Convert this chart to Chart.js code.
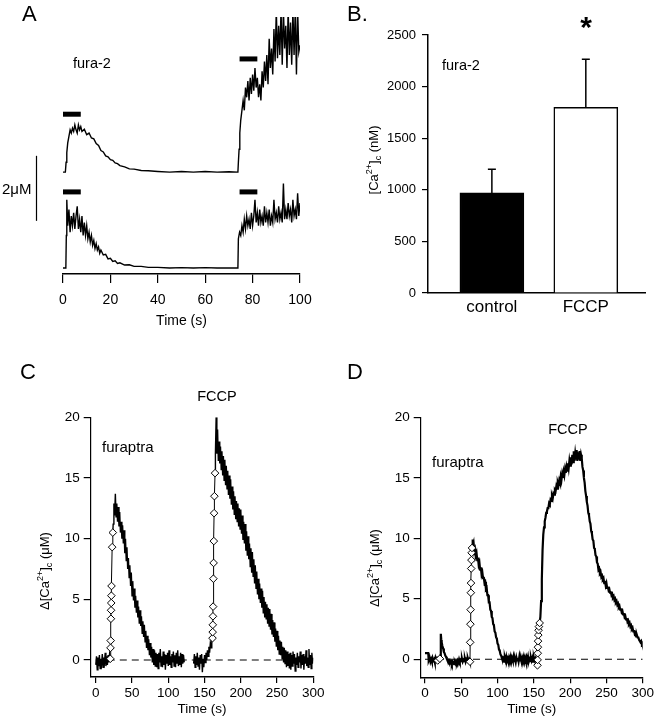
<!DOCTYPE html>
<html>
<head>
<meta charset="utf-8">
<script src="https://cdn.jsdelivr.net/npm/chart.js@4.4.1/dist/chart.umd.min.js"></script>
<style>
  body { margin: 0; background: #fff; }
  #fig { position: relative; width: 656px; height: 720px; }
  canvas { position: absolute; }
</style>
</head>
<body>
<div id="fig">
  <canvas id="chartA" width="330" height="330" style="left:0;top:0"></canvas>
  <canvas id="chartB" width="326" height="330" style="left:330px;top:0"></canvas>
  <canvas id="chartC" width="330" height="390" style="left:0;top:330px"></canvas>
  <canvas id="chartD" width="326" height="390" style="left:330px;top:330px"></canvas>
</div>
<script>
// ---- panel A: fura-2 traces, values in uM above each trace's own baseline ----
const aTimeTicks = [0, 20, 40, 60, 80, 100]
const aTraceOffset = 2.95 // upper trace is stacked above the lower one
const aStimulus = [[0, 7.5], [74.5, 82]]
const aStimHeightTop = [1.78, 3.48]
const aStimHeightBottom = [2.34, 2.34]
const aTopTrace = [[0,0],[1,0],[1.3,0.3],[1.6,0.6],[2,0.9],[2.5,1.1],[3,1.3],[3.5,1.2],[4,1.35],[4.5,1.25],[5,1.45],[5.5,1.3],[6,1.2],[6.5,1.45],[7,1.3],[7.5,1.4],[8,1.25],[9,1.32],[10,1.15],[11,1.2],[12,1.05],[13,1.02],[14,0.88],[15,0.82],[16,0.66],[17,0.62],[18,0.5],[19,0.47],[20,0.38],[21,0.36],[22,0.28],[23,0.26],[24,0.2],[26,0.16],[28,0.1],[30,0.09],[33,0.05],[36,0.04],[40,0.02],[45,0.0],[50,0.02],[55,0.0],[60,0.02],[65,0.0],[70,0.01],[73.8,0],
  [74,0.3],[74.3,0.7],[74.6,1.2],[75,1.6],[75.5,1.9],[76,2.2],[76.5,1.9],[77,2.6],[77.5,2.3],[78,2.8],[78.5,2.2],[79,2.9],[79.5,2.4],[80,3.0],[80.5,2.5],[81,3.2],[81.5,2.6],[82,2.9],[82.5,2.3],[83,2.7],[83.5,2.2],[84,3.1],[84.5,2.6],[85,3.4],[85.5,2.8],[86,3.6],[86.5,2.7],[87,4.1],[87.5,3.2],[88,3.8],[88.5,3.0],[89,4.4],[89.5,3.4],[90,5.0],[90.5,3.5],[91,4.5],[91.5,3.6],[92,5.0],[92.5,3.3],[93,5.0],[93.5,3.8],[94,4.5],[94.5,3.2],[95,5.0],[95.5,3.6],[96,4.6],[96.5,3.3],[97,5.0],[97.5,3.6],[98,5.0],[98.5,3.0],[99,5.0],[99.5,3.7],[100,3.9]]
const aBottomTrace = [[0,0],[1.2,0],[1.4,1.0],[1.6,2.1],[2,1.3],[2.5,1.8],[3,1.1],[3.5,1.6],[4,1.3],[4.5,1.7],[5,1.2],[5.5,1.6],[6,1.9],[6.5,1.2],[7,1.5],[7.5,1.1],[8,1.6],[8.5,1.0],[9,1.4],[9.5,1.0],[10,1.3],[10.5,0.9],[11,1.1],[11.5,0.8],[12,1.0],[12.5,0.7],[13,0.85],[13.5,0.6],[14,0.75],[14.5,0.55],[15,0.65],[15.5,0.45],[16,0.55],[17,0.4],[18,0.42],[19,0.28],[20,0.3],[21,0.2],[22,0.22],[23,0.14],[24,0.16],[26,0.09],[28,0.1],[30,0.05],[33,0.05],[36,0.02],[40,0.02],[45,0.0],[50,0.01],[55,0.0],[60,0.01],[65,0],[73.8,0],
  [74,0.9],[74.5,1.1],[75,1.0],[75.5,1.3],[76,1.1],[76.5,1.5],[77,1.2],[77.5,1.6],[78,1.3],[78.5,1.5],[79,1.2],[79.5,1.7],[80,1.3],[80.5,1.6],[81,2.1],[81.5,1.4],[82,1.7],[82.5,1.3],[83,1.8],[83.5,1.4],[84,1.6],[84.5,1.3],[85,1.9],[85.5,1.4],[86,1.7],[86.5,1.4],[87,1.8],[87.5,1.3],[88,1.6],[88.5,1.4],[89,2.1],[89.5,1.5],[90,1.7],[90.5,1.4],[91,1.9],[91.5,1.5],[92,1.7],[92.5,1.4],[93,2.6],[93.5,1.5],[94,1.8],[94.5,1.5],[95,2.0],[95.5,1.6],[96,1.8],[96.5,1.4],[97,2.1],[97.5,1.6],[98,1.8],[98.5,1.5],[99,2.3],[99.5,1.6],[100,2.0]]

// ---- panel B: mean [Ca2+]c (nM) ----
const bGroups = ['control', 'FCCP']
const bMean = [970, 1800]
const bSem = [230, 465]
const bCaTicks = [0, 500, 1000, 1500, 2000, 2500]

// ---- panels C and D: furaptra, delta [Ca2+]c (uM) ----
const cdTimeTicks = [0, 50, 100, 150, 200, 250, 300]
const cdCaTicks = [0, 5, 10, 15, 20]

const cTrace1 = [[0,-0.4],[1,0.3],[2,-0.8],[3,0.2],[4,-0.5],[5,0.4],[6,-0.7],[7,0.1],[8,-0.3],[9,0.5],[10,-0.6],[11,0.2],[12,-0.2],[13,0.6],[14,-0.5],[15,0.3],[16,-0.4],[17,0.4],[18,-0.2],[19,0.5],[20,0.1]]
const cDiamonds1 = [[20,0.1],[20.3,1.0],[20.6,1.6],[20.9,3.4],[21.1,4.1],[21.3,4.7],[21.5,5.3],[21.7,6.1],[22.6,9.3],[23.5,10.5]]
const cTrace2 = [[23.5,10.5],[24,11.2],[25,12.9],[26,11.9],[27,13.7],[28,11.8],[29,12.9],[30,11.4],[31,12.6],[32,11.0],[33,12.2],[34,10.5],[35,11.4],[36,10.0],[37,11.1],[38,9.6],[39,10.7],[40,8.8],[41,10.0],[42,8.2],[43,9.3],[44,7.5],[45,8.4],[46,6.8],[47,7.8],[48,6.1],[49,7.2],[50,5.3],[51,6.5],[52,4.9],[53,5.9],[54,4.3],[55,5.3],[56,3.9],[57,4.9],[58,3.5],[59,4.4],[60,3.0],[61,4.1],[62,2.8],[63,3.6],[64,2.2],[65,3.2],[66,1.9],[67,2.9],[68,1.5],[69,2.4],[70,1.0],[71,2.0],[72,0.8],[73,1.7],[74,0.4],[75,1.4],[76,0.2],[77,1.1],[78,-0.2],[79,0.9],[80,-0.4],[81,0.8],[82,-0.5],[83,0.6],[84,-0.6],
  [85,0.5],[86,-0.7],[87,0.6],[88,-0.2],[89,0.9],[90,-0.5],[91,0.3],[92,-0.6],[93,0.7],[94,-0.4],[95,0.5],[96,-0.8],[97,0.4],[98,-0.3],[99,0.6],[100,-0.5],[101,0.8],[102,-0.4],[103,0.3],[104,-0.6],[105,0.5],[106,-0.2],[107,0.7],[108,-0.5],[109,0.4],[110,-0.6],[111,0.6],[112,-0.3],[113,0.8],[114,-0.5],[115,0.3],[116,-0.4],[117,0.6],[118,-0.6],[119,0.5],[120,-0.3],[121,0.4],[122,-0.2]]
const cTrace3 = [[135,-0.3],[136,0.5],[137,-0.6],[138,0.3],[139,-0.4],[140,0.6],[141,-0.5],[142,0.2],[143,-0.8],[144,0.4],[145,-0.3],[146,0.5],[147,-1.0],[148,0.1],[149,-0.6],[150,0.4],[151,-0.2],[152,0.6],[153,0.0],[154,0.8],[155,0.3],[156,1.1],[157,0.6],[158,1.4],[159,1.0],[160,1.6],[161,1.8]]
const cDiamonds2 = [[161,1.8],[161.2,2.3],[161.4,2.9],[161.6,3.6],[161.8,4.4],[162.2,6.7],[162.5,8.0],[162.8,9.8],[163.2,12.1],[163.6,13.5],[164.5,15.4]]
const cTrace4 = [[164.5,15.4],[165,17.0],[166,20.0],[167,17.0],[168,19.0],[169,16.4],[170,18.0],[171,16.2],[172,17.6],[173,15.7],[174,17.2],[175,15.2],[176,16.8],[177,14.8],[178,16.5],[179,14.4],[180,16.0],[181,14.1],[182,15.6],[183,13.6],[184,15.2],[185,13.3],[186,14.9],[187,12.8],[188,14.3],[189,12.4],[190,13.9],[191,12.0],[192,13.5],[193,11.6],[194,13.1],[195,11.4],[196,12.9],[197,11.0],[198,12.5],[199,10.8],[200,12.4],[201,10.4],[202,11.9],[203,9.9],[204,11.4],[205,9.6],[206,11.2],[207,9.0],[208,10.6],[209,8.6],[210,10.2],[211,8.3],[212,9.6],[213,7.7],[214,9.2],[215,7.2],[216,8.9],[217,6.9],[218,8.3],[219,6.3],[220,7.8],[221,5.9],[222,7.3],[223,5.4],[224,6.7],[225,5.0],[226,6.3],[227,4.7],[228,5.9],[229,4.3],[230,5.7],[231,3.9],[232,5.2],[233,3.5],[234,4.8],[235,3.4],[236,4.6],[237,3.0],[238,4.3],[239,2.8],[240,4.2],[241,2.5],[242,3.8],[243,2.1],[244,3.3],[245,1.9],[246,3.1],[247,1.5],[248,2.6],[249,1.1],[250,2.4],[251,0.8],[252,2.0],[253,0.5],[254,1.6],[255,0.4],[256,1.5],[257,0.1],[258,1.1],[259,-0.2],[260,1.0],[261,-0.3],[262,0.8],[263,-0.6],[264,0.7],[265,-0.5],[266,0.5],[267,-0.7],[268,0.6],
  [269,-0.8],[270,0.4],[271,-0.5],[272,0.7],[273,-0.3],[274,0.5],[275,-0.9],[276,0.2],[277,-0.4],[278,0.6],[279,-0.6],[280,0.3],[281,-0.2],[282,0.7],[283,-0.7],[284,0.4],[285,-0.4],[286,0.5],[287,-0.8],[288,0.3],[289,-0.3],[290,0.8],[291,-0.5],[292,0.2],[293,-0.6],[294,0.9],[295,-0.4],[296,0.4],[297,-0.7],[298,0.6],[299,-0.3],[300,0.2]]

const dTrace1 = [[0,0.5],[2,0.5],[4.5,0.5],[4.8,0.0],[5.5,-0.1],[6.5,0.1],[7.5,-0.2],[8.5,0.0],[9.5,-0.2],[10.5,0.1],[11.5,-0.1],[12.5,0.0],[13.5,-0.25],[14.5,0.1],[15.5,-0.1],[16.5,0.0],[17.5,-0.1]]
const dDiamonds1 = [[17.5,-0.1],[20.5,0.05]]
const dTrace2 = [[20.5,0.05],[21,0.3],[21.8,2.1],[22.5,1.6],[23,1.4],[24,1.1],[25,0.9],[26,0.6],[27,0.5],[28,0.3],[29,0.2],[30,0.05],[31,-0.1],[32,-0.05],[33,-0.2],[34,-0.1],[35,-0.3],[36,-0.2],[37,-0.4],[38,-0.2],[39,-0.3],[40,-0.4],[41,-0.2],[42,-0.35],[43,-0.15],[44,-0.3],[45,-0.1],[46,-0.25],[47,0.0],[48,-0.2],[49,-0.05],[50,-0.15],[51,0.05],[52,-0.2],[53,-0.05],[54,-0.15],[55,0.05],[56,-0.2],[57,0.0],[58,-0.1],[59,0.1],[60,-0.1],[61,0.0],[62,-0.2]]
const dDiamonds2 = [[62,-0.2],[62.3,1.4],[62.6,2.9],[62.9,4.1],[63.2,5.5],[63.4,6.3],[63.7,7.5],[64,8.2],[64.3,8.8],[64.8,9.2]]
const dTrace3 = [[64.8,9.2],[65.5,9.9],[66,9.3],[67,9.6],[68,8.9],[69,9.1],[70,8.6],[71,8.8],[72,8.2],[73,8.4],[74,7.8],[75,8.0],[76,7.4],[77,7.6],[78,7.0],[79,7.2],[80,6.7],[81,6.8],[82,6.3],[83,6.4],[84,5.8],[85,5.9],[86,5.3],[87,5.3],[88,4.7],[89,4.7],[90,4.1],[91,4.0],[92,3.5],[93,3.4],[94,2.9],[95,2.8],[96,2.3],[97,2.2],[98,1.8],[99,1.7],[100,1.3],[101,1.2],[102,0.8],[103,0.7],[104,0.4],[105,0.3],[106,0.1],[107,0.0],[108,0.1],
  [109,-0.2],[110,0.15],[111,-0.1],[112,0.2],[113,-0.15],[114,0.05],[115,-0.2],[116,0.15],[117,-0.05],[118,0.2],[119,-0.2],[120,0.1],[121,-0.1],[122,0.2],[123,-0.15],[124,0.0],[125,-0.25],[126,0.15],[127,-0.1],[128,0.1],[129,-0.2],[130,0.2],[131,-0.1],[132,0.05],[133,-0.2],[134,0.15],[135,-0.05],[136,0.2],[137,-0.2],[138,0.1],[139,-0.15],[140,0.15],[141,-0.1],[142,0.2],[143,-0.2],[144,0.0],[145,-0.15],[146,0.15],[147,-0.1],[148,0.1],[149,-0.2],[150,0.15],[151,-0.1],[152,0.05],[153,-0.2],[154,0.0],[155,-0.5]]
const dDiamonds3 = [[155,-0.5],[155.2,-0.05],[155.4,0.5],[155.6,1.0],[155.8,1.5],[156.1,2.0],[156.5,2.4],[157,2.7],[158,3.0]]
const dTrace4 = [[158,3.0],[159,3.5],[160,4.8],[161,6.6],[162,9.0],[163,10.3],[164,10.9],[165,11.4],[166,11.7],[167,12.1],[168,12.2],[169,12.5],[170,12.5],[171,12.9],[172,12.8],[173,13.2],[174,13.1],[175,13.5],[176,13.3],[177,13.7],[178,13.6],[179,14.0],[180,13.9],[181,14.3],[182,14.1],[183,14.6],[184,14.4],[185,14.8],[186,14.6],[187,15.1],[188,14.8],[189,15.3],[190,15.0],[191,15.5],[192,15.2],[193,15.7],[194,15.4],[195,15.9],[196,15.6],[197,16.2],[198,15.8],[199,16.4],[200,16.0],[201,16.7],[202,16.1],[203,16.9],[204,16.3],[205,17.2],[206,16.4],[207,17.0],[208,16.5],[209,17.3],[210,16.4],[211,17.1],[212,16.5],[213,17.2],[214,16.4],[215,16.9],
  [216,16.6],[217,15.9],[218,15.6],[219,15.0],[220,14.6],[221,13.9],[222,13.5],[223,13.0],[224,12.7],[225,12.1],[226,11.9],[227,11.4],[228,11.2],[229,10.6],[230,10.4],[231,9.9],[232,9.8],[233,9.2],[234,9.1],[235,8.6],[236,8.5],[237,8.0],[238,7.9],[239,7.4],[240,7.5],[241,7.1],[242,7.2],[243,6.8],[244,6.9],[245,6.6],[246,6.7],[247,6.3],[248,6.5],[249,6.1],[250,6.3],[251,5.9],[252,6.0],[253,5.7],[254,5.8],[255,5.5],[256,5.6],[257,5.3],[258,5.4],[259,5.1],[260,5.2],[261,4.9],[262,5.0],[263,4.7],[264,4.8],[265,4.5],[266,4.6],[267,4.3],[268,4.4],[269,4.1],[270,4.2],[271,3.9],[272,4.0],[273,3.7],[274,3.8],[275,3.5],[276,3.6],[277,3.3],[278,3.4],[279,3.1],[280,3.2],[281,2.9],[282,3.0],[283,2.7],[284,2.8],[285,2.5],[286,2.6],[287,2.3],[288,2.4],[289,2.1],[290,2.2],[291,1.9],[292,2.0],[293,1.8],[294,1.8],[295,1.6],[296,1.6],[297,1.4],[298,1.5],[299,1.3],[300,1.4]]

const FONT = '"Liberation Sans", Arial, Helvetica, sans-serif'
Chart.defaults.font.family = FONT
Chart.defaults.color = '#000'

const toXY = (pairs, shift = 0) => pairs.map(([x, y]) => ({ x, y: y + shift }))

function drawVerticalTitle (ctx, t) {
  const small = Math.round(t.size * 0.72)
  const fontOf = p => `${p.sup || p.sub ? small : t.size}px ${FONT}`
  ctx.save()
  ctx.translate(t.x, t.y)
  ctx.rotate(-Math.PI / 2)
  ctx.textAlign = 'left'
  ctx.textBaseline = 'alphabetic'
  let w = 0
  t.parts.forEach(p => { ctx.font = fontOf(p); w += ctx.measureText(p.text).width })
  let cx = -w / 2
  t.parts.forEach(p => {
    ctx.font = fontOf(p)
    const dy = p.sup ? -t.size * 0.4 : p.sub ? t.size * 0.25 : 0
    ctx.fillText(p.text, cx, t.size * 0.36 + dy)
    cx += ctx.measureText(p.text).width
  })
  ctx.restore()
}

// free text, rotated axis titles with super/subscripts, scale bar
const figureText = {
  id: 'figureText',
  afterDraw (chart, args, opts) {
    const ctx = chart.ctx
    ctx.save()
    ctx.fillStyle = '#000'
    ;(opts.items || []).forEach(it => {
      ctx.font = `${it.weight || 'normal'} ${it.size}px ${FONT}`
      ctx.textAlign = it.align || 'left'
      ctx.textBaseline = it.baseline || 'middle'
      ctx.fillText(it.text, it.x, it.y)
    })
    if (opts.yTitle) drawVerticalTitle(ctx, opts.yTitle)
    if (opts.scaleBar) {
      const sb = opts.scaleBar
      const y = chart.scales.y
      const y0 = y.getPixelForValue(sb.from)
      const y1 = y.getPixelForValue(sb.from + sb.value)
      ctx.strokeStyle = '#000'
      ctx.lineWidth = 1.2
      ctx.beginPath()
      ctx.moveTo(sb.x, y0)
      ctx.lineTo(sb.x, y1)
      ctx.stroke()
      ctx.font = `15px ${FONT}`
      ctx.textAlign = 'right'
      ctx.textBaseline = 'middle'
      ctx.fillText(sb.label, sb.x - 5, (y0 + y1) / 2 + 2)
    }
    ctx.restore()
  }
}

const errorBars = {
  id: 'errorBars',
  afterDatasetsDraw (chart, args, opts) {
    const { ctx, scales: { x, y } } = chart
    ctx.save()
    ctx.strokeStyle = '#000'
    ctx.lineWidth = 1.5
    opts.mean.forEach((m, i) => {
      const px = x.getPixelForValue(i + 1)
      const y0 = y.getPixelForValue(m)
      const y1 = y.getPixelForValue(m + opts.sem[i])
      ctx.beginPath()
      ctx.moveTo(px, y0)
      ctx.lineTo(px, y1)
      ctx.moveTo(px - 4, y1)
      ctx.lineTo(px + 4, y1)
      ctx.stroke()
    })
    ctx.restore()
  }
}

function timeAxis (min, max, ticks, size, tickLen, pad, boxH, titlePad) {
  return {
    type: 'linear',
    min,
    max,
    afterBuildTicks: axis => { axis.ticks = ticks.map(v => ({ value: v })) },
    afterFit: axis => { axis.height = boxH },
    border: { color: '#000', width: 1.5 },
    grid: { drawOnChartArea: false, tickLength: tickLen, color: '#000', lineWidth: 1.2 },
    ticks: { color: '#000', font: { size }, padding: pad, maxRotation: 0, autoSkip: false },
    title: { display: true, text: 'Time (s)', color: '#000', font: { size }, padding: { top: 0, bottom: titlePad } }
  }
}

const baseOptions = {
  responsive: false,
  animation: false,
  events: []
}

// Panel A
const aDatasets = [
  { data: toXY(aTopTrace, aTraceOffset) },
  { data: toXY(aBottomTrace) }
]
aStimulus.forEach(([t0, t1], i) => {
  aDatasets.push({ data: [{ x: t0, y: aStimHeightTop[i] + aTraceOffset }, { x: t1, y: aStimHeightTop[i] + aTraceOffset }], borderWidth: 5 })
  aDatasets.push({ data: [{ x: t0, y: aStimHeightBottom[i] }, { x: t1, y: aStimHeightBottom[i] }], borderWidth: 5 })
})
aDatasets.forEach(d => Object.assign(d, { borderColor: '#000', borderWidth: d.borderWidth || 1.4, pointRadius: 0, tension: 0 }))

new Chart(document.getElementById('chartA'), {
  type: 'line',
  data: { datasets: aDatasets },
  options: {
    ...baseOptions,
    layout: { padding: { left: 63, top: 17, right: 30, bottom: 0 } },
    plugins: {
      legend: { display: false },
      tooltip: { enabled: false },
      figureText: {
        items: [
          { text: 'A', x: 22, y: 15, size: 22 },
          { text: 'fura-2', x: 73, y: 64, size: 14.5 }
        ],
        scaleBar: { x: 36.5, from: 1.45, value: 2, label: '2\u03bcM' }
      }
    },
    scales: {
      x: timeAxis(0, 100, aTimeTicks, 14, 9, 9, 56, 0),
      y: { display: false, min: -0.185, max: 7.72 }
    }
  },
  plugins: [figureText]
})

// Panel B
new Chart(document.getElementById('chartB'), {
  type: 'bar',
  data: {
    datasets: [{
      data: bMean.map((m, i) => ({ x: i + 1, y: m })),
      backgroundColor: ['#000', '#fff'],
      borderColor: '#000',
      borderWidth: 1.5,
      barThickness: 64,
      categoryPercentage: 1,
      barPercentage: 1
    }]
  },
  options: {
    ...baseOptions,
    layout: { padding: { left: 0, top: 35, right: 11, bottom: 0 } },
    plugins: {
      legend: { display: false },
      tooltip: { enabled: false },
      errorBars: { mean: bMean, sem: bSem },
      figureText: {
        items: [
          { text: 'B.', x: 17, y: 15, size: 22 },
          { text: 'fura-2', x: 112, y: 66, size: 14.5 },
          { text: '*', x: 256, y: 37, size: 30, weight: 'bold', align: 'center', baseline: 'alphabetic' }
        ],
        yTitle: { x: 43, y: 160, size: 13, parts: [{ text: '[Ca' }, { text: '2+', sup: true }, { text: ']' }, { text: 'c', sub: true }, { text: ' (nM)' }] }
      }
    },
    scales: {
      x: {
        type: 'linear',
        min: 0.32,
        max: 2.63,
        offset: false,
        bounds: 'data',
        afterBuildTicks: axis => { axis.ticks = bGroups.map((g, i) => ({ value: i + 1 })) },
        afterFit: axis => { axis.height = 37 },
        border: { color: '#000', width: 1.5 },
        grid: { display: false, drawTicks: false, offset: false },
        ticks: { color: '#000', font: { size: 17 }, padding: 4, maxRotation: 0, autoSkip: false, includeBounds: false, callback: v => bGroups[v - 1] }
      },
      y: {
        type: 'linear',
        min: 0,
        max: 2500,
        afterBuildTicks: axis => { axis.ticks = bCaTicks.map(v => ({ value: v })) },
        afterFit: axis => { axis.width = 98 },
        border: { color: '#000', width: 1.5 },
        grid: { drawOnChartArea: false, tickLength: 6, color: '#000', lineWidth: 1.2 },
        ticks: { color: '#000', font: { size: 13 }, padding: 6, callback: v => String(v) }
      }
    }
  },
  plugins: [errorBars, figureText]
})

// Panels C and D
function tracePanel (id, p) {
  const datasets = []
  p.diamonds.forEach(d => datasets.push({
    data: toXY(d), order: 0, borderColor: '#000', borderWidth: 1,
    pointStyle: 'rectRot', pointRadius: 3.8, pointBackgroundColor: '#fff', pointBorderColor: '#000', pointBorderWidth: 1
  }))
  p.traces.forEach(t => datasets.push({ data: toXY(t), order: 1, borderColor: '#000', borderWidth: p.lineWidth, pointRadius: 0 }))
  datasets.push({ data: [{ x: 0, y: 0 }, { x: 300, y: 0 }], order: 2, borderColor: '#000', borderWidth: 1.2, borderDash: [7, 5], pointRadius: 0 })

  new Chart(document.getElementById(id), {
    type: 'line',
    data: { datasets },
    options: {
      ...baseOptions,
      layout: { padding: { left: 0, top: 87.3, right: p.right, bottom: 0 } },
      plugins: {
        legend: { display: false },
        tooltip: { enabled: false },
        figureText: {
          items: p.items,
          yTitle: { x: 44, y: p.titleY, size: 13, parts: [{ text: '\u0394[Ca' }, { text: '2+', sup: true }, { text: ']' }, { text: 'c', sub: true }, { text: ' (\u03bcM)' }] }
        }
      },
      scales: {
        x: timeAxis(p.xMin, 300, cdTimeTicks, 13.5, 6, 2, p.boxH, 3),
        y: {
          type: 'linear',
          min: p.yMin,
          max: 20,
          afterBuildTicks: axis => { axis.ticks = cdCaTicks.map(v => ({ value: v })) },
          afterFit: axis => { axis.width = 90.7 },
          border: { color: '#000', width: 1.2 },
          grid: { drawOnChartArea: false, tickLength: 7, color: '#000', lineWidth: 1.2 },
          ticks: { color: '#000', font: { size: 13.5 }, padding: 4 }
        }
      }
    },
    plugins: [figureText]
  })
}

tracePanel('chartC', {
  traces: [cTrace1, cTrace2, cTrace3, cTrace4],
  diamonds: [cDiamonds1, cDiamonds2],
  lineWidth: 1.4,
  xMin: -7,
  yMin: -1.4,
  right: 16.7,
  boxH: 43,
  titleY: 241,
  items: [
    { text: 'C', x: 20, y: 43, size: 22 },
    { text: 'furaptra', x: 102, y: 118, size: 15 },
    { text: 'FCCP', x: 217, y: 67, size: 14.5, align: 'center' }
  ]
})

tracePanel('chartD', {
  traces: [dTrace1, dTrace2, dTrace3, dTrace4],
  diamonds: [dDiamonds1, dDiamonds2, dDiamonds3],
  lineWidth: 2.2,
  xMin: -5.9,
  yMin: -1.49,
  right: 13.3,
  boxH: 42.7,
  titleY: 238,
  items: [
    { text: 'D', x: 17, y: 43, size: 22 },
    { text: 'furaptra', x: 102, y: 133, size: 15 },
    { text: 'FCCP', x: 238, y: 100, size: 14.5, align: 'center' }
  ]
})
</script>
